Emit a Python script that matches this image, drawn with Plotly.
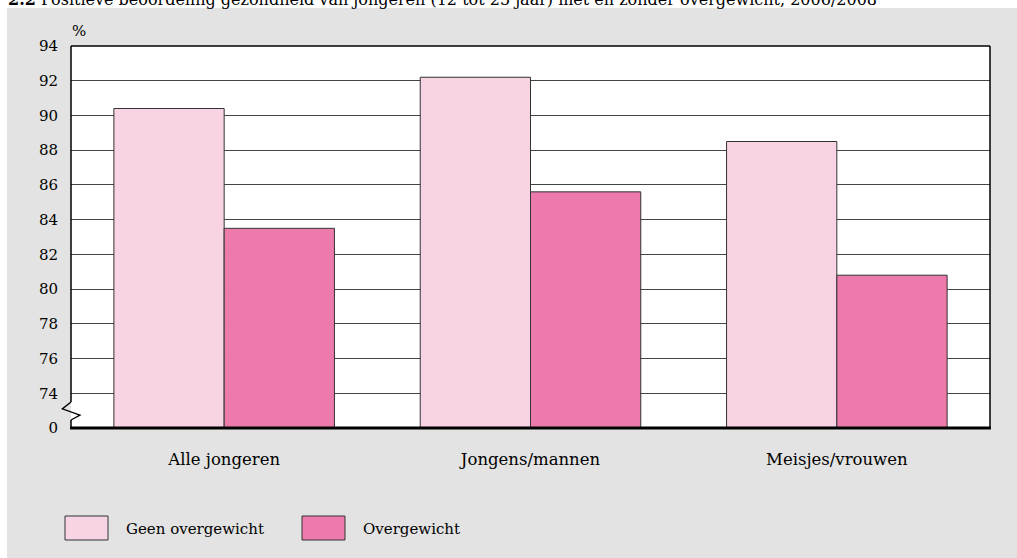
import plotly.graph_objects as go

# ---- data ----
categories = ["Alle jongeren", "Jongens/mannen", "Meisjes/vrouwen"]
series_names = ["Geen overgewicht", "Overgewicht"]
geen_overgewicht = [90.4, 92.2, 88.5]
overgewicht = [83.5, 85.6, 80.8]
tick_values = [72, 74, 76, 78, 80, 82, 84, 86, 88, 90, 92, 94]
tick_labels = ["0", "74", "76", "78", "80", "82", "84", "86", "88", "90", "92", "94"]
title_text = "<b>2.2</b> Positieve beoordeling gezondheid van jongeren (12 tot 25 jaar) met en zonder overgewicht, 2006/2008"

# ---- style ----
W, H = 1017, 558
L, R, T, B = 71, 27, 46, 130
PW, PH = W - L - R, H - T - B
YMIN, YMAX = 72, 94
FONT = "DejaVu Serif"
GRAY = "#e2e3e2"
C1, C2 = "#f7d3e3", "#ec7aab"
EDGE = "#333333"


def px_x(px):  # figure pixel -> paper x
    return (px - L) / PW


def px_y(py):  # figure pixel -> paper y
    return (T + PH - py) / PH


def val_y(v):
    return (v - YMIN) / (YMAX - YMIN)


fig = go.Figure()
for name, vals, col in [(series_names[0], geen_overgewicht, C1), (series_names[1], overgewicht, C2)]:
    fig.add_trace(go.Bar(
        x=categories, y=vals, name=name,
        marker=dict(color=col, line=dict(color=EDGE, width=1)),
        showlegend=False,
    ))

shapes = []
# white strips at top and left (outside the gray panel)
shapes.append(dict(type="rect", xref="paper", yref="paper", x0=px_x(-20), x1=px_x(W + 20),
                   y0=px_y(8), y1=px_y(-20), fillcolor="white", line=dict(width=0), layer="below"))
shapes.append(dict(type="rect", xref="paper", yref="paper", x0=px_x(-20), x1=px_x(7),
                   y0=px_y(H + 20), y1=px_y(-20), fillcolor="white", line=dict(width=0), layer="below"))
# frame
shapes.append(dict(type="line", xref="paper", yref="paper", x0=0, x1=1, y0=1, y1=1,
                   line=dict(color="black", width=1.5)))
shapes.append(dict(type="line", xref="paper", yref="paper", x0=1, x1=1, y0=0, y1=1,
                   line=dict(color="black", width=1.5)))
# left axis with break
y_break_top = 73.5
y_break_bot = 72.46
shapes.append(dict(type="line", xref="paper", yref="paper", x0=0, x1=0, y0=val_y(y_break_top), y1=1,
                   line=dict(color="black", width=1.5)))
shapes.append(dict(type="line", xref="paper", yref="paper", x0=0, x1=0, y0=0, y1=val_y(y_break_bot),
                   line=dict(color="black", width=1.5)))
zx = [0, px_x(62.3), px_x(80), 0]
zy = [val_y(y_break_top), val_y(73.1), val_y(72.74), val_y(y_break_bot)]
path = "M {} {} L {} {} L {} {} L {} {}".format(zx[0], zy[0], zx[1], zy[1], zx[2], zy[2], zx[3], zy[3])
shapes.append(dict(type="path", xref="paper", yref="paper", path=path,
                   line=dict(color="black", width=1.3)))
# bottom thick axis
shapes.append(dict(type="line", xref="paper", yref="paper", x0=-0.001, x1=1.001, y0=0, y1=0,
                   line=dict(color="black", width=3)))

# legend boxes
leg = [(65, 108, 124, C1, series_names[0]), (302, 345, 361, C2, series_names[1])]
annotations = []
for bx0, bx1, tx, col, name in leg:
    shapes.append(dict(type="rect", xref="paper", yref="paper", x0=px_x(bx0), x1=px_x(bx1),
                       y0=px_y(540), y1=px_y(516), fillcolor=col, line=dict(color=EDGE, width=1)))
    annotations.append(dict(xref="paper", yref="paper", x=px_x(tx), y=px_y(529), text=name,
                            showarrow=False, xanchor="left", yanchor="middle",
                            font=dict(family=FONT, size=15, color="black")))

annotations.append(dict(xref="paper", yref="paper", x=px_x(70), y=px_y(31), text="%",
                        showarrow=False, xanchor="left", yanchor="middle",
                        font=dict(family=FONT, size=15, color="black")))
annotations.append(dict(xref="paper", yref="paper", x=px_x(6), y=px_y(11), text=title_text,
                        showarrow=False, xanchor="left", yanchor="bottom",
                        font=dict(family=FONT, size=16, color="black")))

fig.update_layout(
    width=W, height=H,
    margin=dict(l=L, r=R, t=T, b=B, pad=0),
    paper_bgcolor=GRAY, plot_bgcolor="white",
    barmode="group", bargap=0.28, bargroupgap=0,
    showlegend=False,
    shapes=shapes, annotations=annotations,
    xaxis=dict(showgrid=False, showline=False, zeroline=False, ticks="",
               tickfont=dict(family=FONT, size=16.5, color="black"), ticklabelstandoff=19),
    yaxis=dict(range=[YMIN, YMAX], tickvals=tick_values, ticktext=tick_labels,
               showgrid=True, gridcolor="#444444", gridwidth=1, zeroline=False, showline=False,
               ticks="", ticklabelstandoff=12,
               tickfont=dict(family=FONT, size=15, color="black")),
    font=dict(family=FONT, color="black"),
)

fig.write_html("out.html", config={"displayModeBar": False},
               post_script="document.body.style.margin='0px';")
